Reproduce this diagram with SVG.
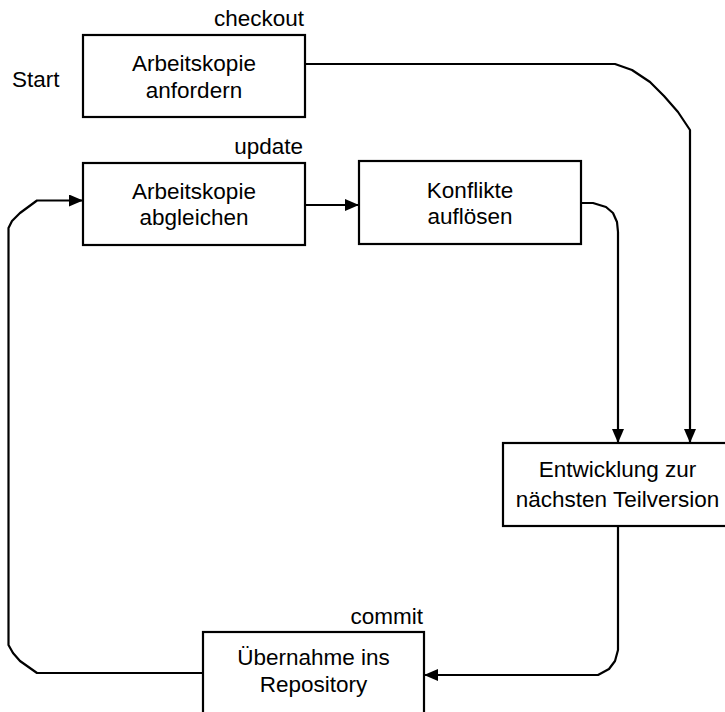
<svg xmlns="http://www.w3.org/2000/svg" width="725" height="712" viewBox="0 0 725 712">
  <style>
    .box { fill: #fff; stroke: #000; stroke-width: 2.2; }
    .lbl { font-family: "Liberation Sans", Arial, sans-serif; font-size: 22.5px; fill: #000; }
    .mid { text-anchor: middle; }
    .end { text-anchor: end; }
    .edge { fill: none; stroke: #000; stroke-width: 2.2; stroke-linejoin: round; }
  </style>
  <defs>
    <marker id="arrow" markerUnits="userSpaceOnUse" markerWidth="15" markerHeight="13" refX="14" refY="6" orient="auto">
      <path d="M0,0 L14,6 L0,12 z" fill="#000"/>
    </marker>
  </defs>
  <rect width="725" height="712" fill="#fff"/>

  <text class="lbl" x="12" y="87">Start</text>

  <g id="checkout">
    <rect class="box" x="83" y="35" width="222" height="82"/>
    <text class="lbl end" x="304" y="26">checkout</text>
    <text class="lbl mid" x="194" y="71">Arbeitskopie</text>
    <text class="lbl mid" x="194" y="98">anfordern</text>
  </g>

  <g id="update">
    <rect class="box" x="83" y="163" width="222" height="82"/>
    <text class="lbl end" x="303" y="154">update</text>
    <text class="lbl mid" x="194" y="199">Arbeitskopie</text>
    <text class="lbl mid" x="194" y="225">abgleichen</text>
  </g>

  <g id="resolve">
    <rect class="box" x="359" y="161" width="222" height="83"/>
    <text class="lbl mid" x="470" y="198">Konflikte</text>
    <text class="lbl mid" x="470" y="224">auflösen</text>
  </g>

  <g id="develop">
    <rect class="box" x="503" y="443" width="230" height="83"/>
    <text class="lbl mid" x="617.5" y="477">Entwicklung zur</text>
    <text class="lbl mid" x="617.5" y="507">nächsten Teilversion</text>
  </g>

  <g id="commit">
    <rect class="box" x="203" y="632" width="221" height="90"/>
    <text class="lbl end" x="423" y="624">commit</text>
    <text class="lbl mid" x="313.5" y="665">Übernahme ins</text>
    <text class="lbl mid" x="313.5" y="692">Repository</text>
  </g>

  <g id="connectors">
    <polyline class="edge" marker-end="url(#arrow)" points="305,64 615,64 632,70 650,82 664,96 678,112 690,130 690,443"/>
    <polyline class="edge" marker-end="url(#arrow)" points="305,205 359,205"/>
    <polyline class="edge" marker-end="url(#arrow)" points="581,203 593,203 606,207 613,213 617,222 618,232 618,443"/>
    <polyline class="edge" marker-end="url(#arrow)" points="618,526 618,650 615,661 609,669 598,675 424,675"/>
    <polyline class="edge" marker-end="url(#arrow)" points="203,673 37,673 20,661 13,653 8.5,645 8.5,228 12,221 20,213 37,200.5 83,200.5"/>
  </g>
</svg>
